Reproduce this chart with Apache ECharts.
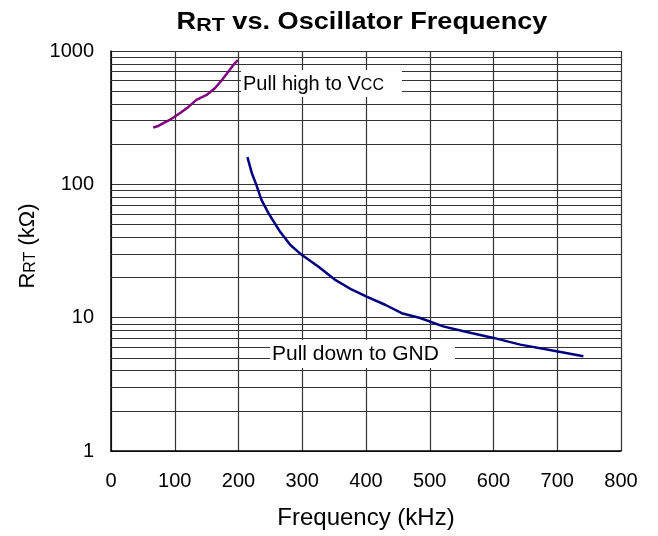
<!DOCTYPE html>
<html><head><meta charset="utf-8">
<script src="https://cdn.jsdelivr.net/npm/echarts@6/dist/echarts.min.js"></script>
<style>html,body{margin:0;padding:0;background:#fff}#c{width:658px;height:536px}</style>
</head><body><div id="c"></div>
<script>
var xTicks = [0,100,200,300,400,500,600,700,800];
var yTicks = [1,10,100,1000];
var yMinorGrid = [2,3,4,5,6,7,8,9,20,30,40,50,60,70,80,90,200,300,400,500,600,700,800,900];
var pullHighFreq = [66,74,92,108,121,134,150,163,174,184,192,199];
var pullHighR    = [266,274,304,341,379,430,468,525,606,700,786,856];
var pullDownFreq = [214,221,228,236,247,260,265,281,299,325,351,378,401,430,456,485,521,553,600,642,699,741];
var pullDownR    = [160,121,99,76.5,60.8,48.3,44.3,35.2,29.6,24.2,19.3,16.2,14.4,12.5,10.8,9.95,8.6,7.9,7.05,6.28,5.6,5.13];

var FONT = '"Liberation Sans", Arial, sans-serif';
function pairs(xs, ys){ return xs.map(function(x,i){ return [x, ys[i]]; }); }

var chart = echarts.init(document.getElementById('c'));
chart.setOption({
  animation: false,
  grid: {left: 111, right: 37, top: 51, bottom: 85},
  xAxis: {
    type: 'value', min: 0, max: 800, interval: 100,
    axisLine: {show: true, lineStyle: {color: '#000', width: 1.5}},
    axisTick: {show: false},
    axisLabel: {color: '#000', fontSize: 20, fontFamily: FONT, margin: 20,
      formatter: function(v){ return xTicks.indexOf(v) >= 0 ? String(v) : ''; }},
    splitLine: {show: true, lineStyle: {color: '#333', width: 1.2}},
    name: 'Frequency (kHz)', nameLocation: 'middle', nameGap: 55,
    nameTextStyle: {color: '#000', fontSize: 24, fontFamily: FONT}
  },
  yAxis: {
    type: 'log', logBase: 10, min: 1, max: 1000,
    axisLine: {show: true, onZero: false, lineStyle: {color: '#000', width: 1.5}},
    axisTick: {show: false},
    axisLabel: {color: '#000', fontSize: 20, fontFamily: FONT, margin: 17,
      formatter: function(v){ return yTicks.indexOf(Math.round(v)) >= 0 ? String(Math.round(v)) : ''; }},
    splitLine: {show: true, lineStyle: {color: '#333', width: 1.2}}
  },
  series: [
    {
      type: 'line', data: pairs(pullHighFreq, pullHighR), showSymbol: false, symbol: 'none',
      lineStyle: {color: '#800080', width: 2.5}, z: 5,
      markLine: {
        silent: true, symbol: ['none','none'], label: {show: false},
        lineStyle: {color: '#333', width: 1.2, type: 'solid'},
        data: yMinorGrid.map(function(v){ return {yAxis: v}; }), z: 1
      }
    },
    {
      type: 'line', data: pairs(pullDownFreq, pullDownR), showSymbol: false, symbol: 'none',
      lineStyle: {color: '#000080', width: 2.5}, z: 5
    }
  ],
  graphic: [
    {type: 'rect', shape: {x: 241, y: 70, width: 161, height: 27}, style: {fill: '#fff'}, z: 100},
    {type: 'text', x: 243, y: 84, z: 101, style: {
      text: '{a|Pull high to V}{s|CC}', verticalAlign: 'middle', fill: '#000',
      rich: {a: {fontSize: 20, fontFamily: FONT, fill: '#000'},
             s: {fontSize: 16, fontFamily: FONT, fill: '#000', padding: [4,0,0,0]}}}},
    {type: 'rect', shape: {x: 270, y: 340, width: 185, height: 28}, style: {fill: '#fff'}, z: 100},
    {type: 'text', x: 272, y: 354, z: 101, style: {
      text: 'Pull down to GND', verticalAlign: 'middle', fill: '#000',
      font: '21px ' + FONT}},
    {type: 'text', x: 362, y: 22, scaleX: 1.13, z: 101, style: {
      text: '{a|R}{s|RT}{a| vs. Oscillator Frequency}', align: 'center', verticalAlign: 'middle',
      rich: {a: {fontSize: 24, fontWeight: 'bold', fontFamily: FONT, fill: '#000'},
             s: {fontSize: 19, fontWeight: 'bold', fontFamily: FONT, fill: '#000', padding: [7,0,0,0]}}}},
    {type: 'text', x: 28, y: 246, rotation: Math.PI/2, z: 101, style: {
      text: '{a|R}{s|RT}{a| (kΩ)}', align: 'center', verticalAlign: 'middle',
      rich: {a: {fontSize: 22, fontFamily: FONT, fill: '#000'},
             s: {fontSize: 16, fontFamily: FONT, fill: '#000', padding: [6,0,0,0]}}}}
  ]
});
</script></body></html>
